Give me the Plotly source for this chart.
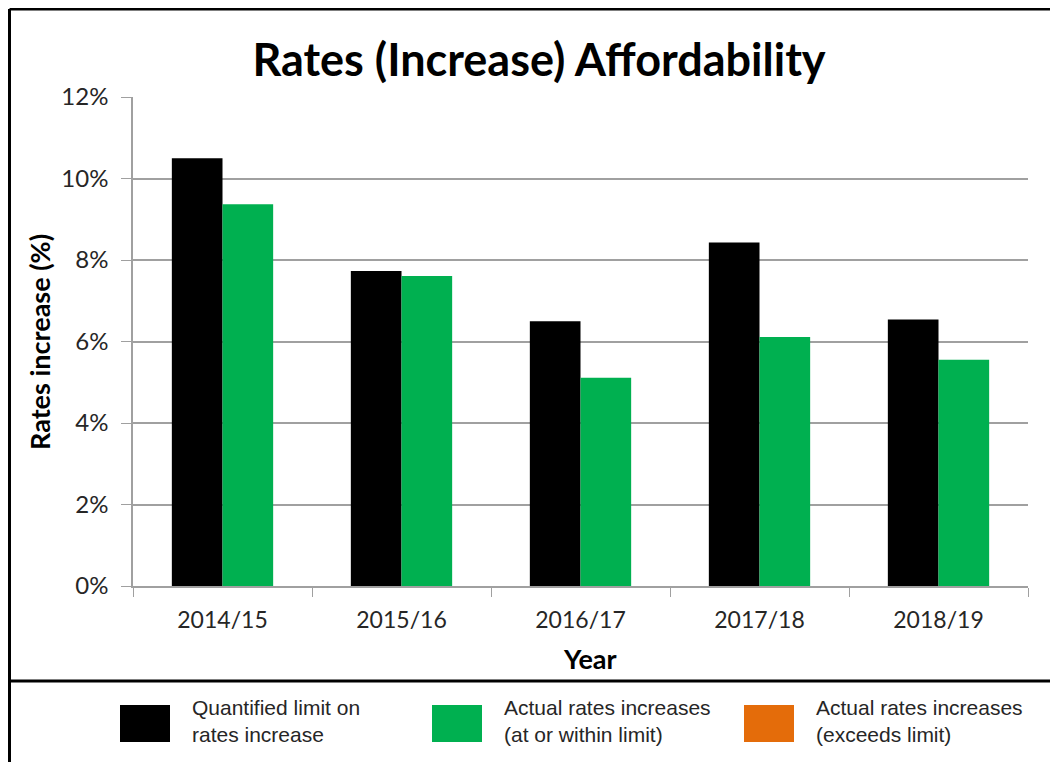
import plotly.graph_objects as go

years = ['2014/15', '2015/16', '2016/17', '2017/18', '2018/19']
limit_pct = [10.50, 7.73, 6.50, 8.43, 6.54]
actual_pct = [9.37, 7.61, 5.11, 6.11, 5.55]

legend_labels = ['Quantified limit on<br>rates increase',
                 'Actual rates increases<br>(at or within limit)',
                 'Actual rates increases<br>(exceeds limit)']
legend_colors = ['#000000', '#00b050', '#e46c0a']

# page has an 8px body margin, so work in page pixels and shift
OFF = 8
W, H = 1058 - OFF, 762 - OFF
L, R, T, B = 133, 1028, 97, 586


def px(x):
    return (x - L) / (R - L)


def py(y):
    return (B - y) / (B - T)


fig = go.Figure()
fig.add_trace(go.Bar(
    x=years, y=limit_pct, name='Quantified limit on rates increase',
    marker=dict(color='#000000', line=dict(width=0)),
    hovertemplate='%{x}: %{y:.2f}%<extra></extra>'
))
fig.add_trace(go.Bar(
    x=years, y=actual_pct, name='Actual rates increases (at or within limit)',
    marker=dict(color='#00b050', line=dict(width=0)),
    hovertemplate='%{x}: %{y:.2f}%<extra></extra>'
))

shapes = []
# outer frame
frame = dict(type='line', xref='paper', yref='paper', line=dict(color='black', width=3))
shapes.append(dict(frame, x0=px(9.5), x1=px(1070), y0=py(9), y1=py(9)))
shapes.append(dict(frame, x0=px(9.5), x1=px(9.5), y0=py(9), y1=py(770)))
shapes.append(dict(frame, x0=px(9.5), x1=px(1070), y0=py(681), y1=py(681)))

annotations = []
for i, (lab, col) in enumerate(zip(legend_labels, legend_colors)):
    x0 = 120 + i * 312
    shapes.append(dict(type='rect', xref='paper', yref='paper', x0=px(x0), x1=px(x0 + 50),
                       y0=py(705), y1=py(742), fillcolor=col, line=dict(width=0), layer='above'))
    annotations.append(dict(xref='paper', yref='paper', x=px(x0 + 70), y=py(721), text=lab,
                            showarrow=False, xanchor='left', yanchor='middle', align='left',
                            font=dict(family='Liberation Sans, Arial', size=21, color='#262626')))

annotations.append(dict(xref='paper', yref='paper', x=px(39), y=py(342), text='<b>Rates increase (%)</b>',
                        textangle=-90, showarrow=False, xanchor='center', yanchor='middle',
                        font=dict(family='Lato', size=27, color='black')))
annotations.append(dict(xref='paper', yref='paper', x=px(590), y=py(658), text='<b>Year</b>',
                        showarrow=False, xanchor='center', yanchor='middle',
                        font=dict(family='Lato', size=27, color='black')))

fig.update_layout(
    width=W, height=H,
    margin=dict(l=L - OFF, r=W - (R - OFF), t=T - OFF, b=H - (B - OFF), pad=0),
    paper_bgcolor='white', plot_bgcolor='white',
    barmode='group', bargap=0.434, bargroupgap=0,
    showlegend=False,
    title=dict(text='<b>Rates (Increase) Affordability</b>', xref='container', yref='container',
               x=(539 - OFF) / W, y=1 - (60 - OFF) / H, xanchor='center', yanchor='middle',
               font=dict(family='Lato', size=45, color='black')),
    font=dict(family='Lato', color='#262626'),
    xaxis=dict(
        showline=True, linecolor='#a0a0a0', linewidth=1.5,
        ticks='outside', tickson='boundaries', ticklen=9, tickcolor='#a0a0a0',
        tickfont=dict(size=23, color='#262626'), ticklabelstandoff=13,
        fixedrange=True
    ),
    yaxis=dict(
        range=[0, 12], dtick=2, ticksuffix='%',
        showgrid=True, gridcolor='#a0a0a0', gridwidth=1.5,
        showline=True, linecolor='#a0a0a0', linewidth=1.5,
        ticks='outside', ticklen=10, tickcolor='#a0a0a0',
        tickfont=dict(size=24, color='#262626'), ticklabelstandoff=8,
        zeroline=False,
        fixedrange=True
    ),
    shapes=shapes,
    annotations=annotations,
)

fig.write_html('out.html')
